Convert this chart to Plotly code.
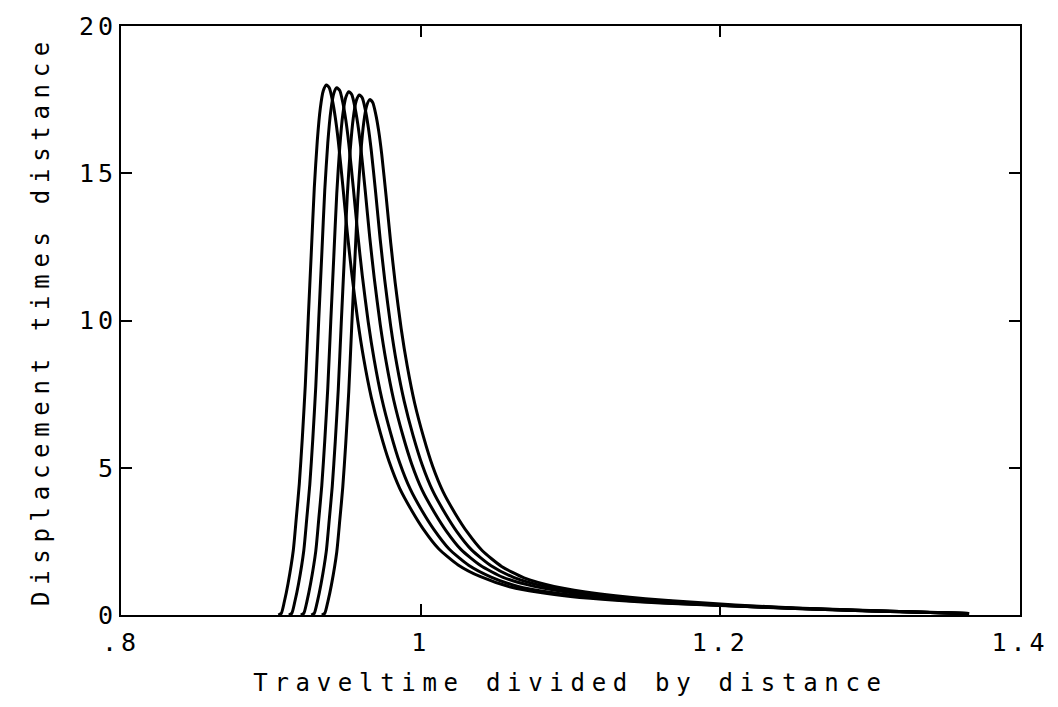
import plotly.graph_objects as go

# ---- data ----
x1 = [0.905, 0.907, 0.909, 0.9115, 0.915, 0.917, 0.919, 0.921, 0.923, 0.925, 0.927, 0.929, 0.931, 0.933, 0.935,
      0.937, 0.939, 0.941, 0.943, 0.945, 0.948, 0.951, 0.954, 0.958, 0.962, 0.967, 0.973, 0.979, 0.986, 0.994,
      1.002, 1.012, 1.025, 1.040, 1.060, 1.080, 1.100, 1.130, 1.160, 1.200, 1.250, 1.300, 1.340, 1.366]
y1 = [0, 0.06, 0.45, 1.07, 2.2, 3.3, 4.45, 6.0, 7.8, 10.1, 12.3, 14.5, 16.1, 17.2, 17.8,
      18.0, 17.9, 17.5, 16.9, 16.1, 14.6, 13.0, 11.6, 10.0, 8.7, 7.4, 6.2, 5.2, 4.3, 3.55,
      2.9, 2.25, 1.7, 1.3, 0.95, 0.76, 0.63, 0.5, 0.41, 0.32, 0.22, 0.14, 0.085, 0.05]

x2 = [0.912, 0.914, 0.916, 0.9185, 0.922, 0.924, 0.926, 0.928, 0.930, 0.932, 0.934, 0.936, 0.938, 0.940, 0.942,
      0.944, 0.946, 0.948, 0.950, 0.952, 0.955, 0.958, 0.961, 0.965, 0.969, 0.974, 0.980, 0.986, 0.993, 1.001,
      1.009, 1.019, 1.032, 1.047, 1.065, 1.085, 1.105, 1.135, 1.165, 1.200, 1.250, 1.300, 1.340, 1.366]
y2 = [0, 0.06, 0.45, 1.06, 2.19, 3.28, 4.43, 5.97, 7.76, 10.05, 12.24, 14.43, 16.02, 17.11, 17.71,
      17.9, 17.81, 17.41, 16.82, 16.02, 14.53, 12.94, 11.54, 9.95, 8.66, 7.36, 6.17, 5.17, 4.28, 3.53,
      2.89, 2.24, 1.69, 1.29, 0.97, 0.78, 0.65, 0.5, 0.41, 0.33, 0.22, 0.14, 0.085, 0.05]

x3 = [0.920, 0.922, 0.924, 0.9265, 0.930, 0.932, 0.934, 0.936, 0.938, 0.940, 0.942, 0.944, 0.946, 0.948, 0.950,
      0.952, 0.954, 0.956, 0.958, 0.960, 0.963, 0.966, 0.969, 0.973, 0.977, 0.982, 0.988, 0.994, 1.001, 1.009,
      1.017, 1.027, 1.040, 1.055, 1.075, 1.095, 1.115, 1.140, 1.170, 1.200, 1.250, 1.300, 1.340, 1.366]
y3 = [0, 0.06, 0.44, 1.06, 2.17, 3.26, 4.39, 5.92, 7.7, 9.97, 12.14, 14.31, 15.89, 16.98, 17.57,
      17.77, 17.67, 17.27, 16.68, 15.89, 14.41, 12.83, 11.45, 9.87, 8.59, 7.3, 6.12, 5.13, 4.24, 3.5,
      2.86, 2.22, 1.68, 1.28, 0.98, 0.8, 0.66, 0.52, 0.42, 0.33, 0.225, 0.145, 0.085, 0.05]

x4 = [0.927, 0.929, 0.931, 0.9335, 0.937, 0.939, 0.941, 0.943, 0.945, 0.947, 0.949, 0.951, 0.953, 0.955, 0.957,
      0.959, 0.961, 0.963, 0.965, 0.967, 0.970, 0.973, 0.976, 0.980, 0.984, 0.989, 0.995, 1.001, 1.008, 1.016,
      1.024, 1.034, 1.047, 1.062, 1.082, 1.102, 1.122, 1.145, 1.175, 1.205, 1.250, 1.300, 1.340, 1.366]
y4 = [0, 0.06, 0.44, 1.05, 2.16, 3.24, 4.37, 5.89, 7.65, 9.91, 12.07, 14.22, 15.79, 16.87, 17.46,
      17.66, 17.56, 17.17, 16.58, 15.79, 14.32, 12.75, 11.38, 9.81, 8.53, 7.26, 6.08, 5.1, 4.22, 3.48,
      2.84, 2.21, 1.67, 1.28, 0.98, 0.8, 0.67, 0.54, 0.43, 0.33, 0.23, 0.145, 0.088, 0.05]

x5 = [0.934, 0.936, 0.938, 0.9405, 0.944, 0.946, 0.948, 0.950, 0.952, 0.954, 0.956, 0.958, 0.960, 0.962, 0.964,
      0.966, 0.968, 0.970, 0.972, 0.974, 0.977, 0.980, 0.983, 0.987, 0.991, 0.996, 1.002, 1.008, 1.015, 1.023,
      1.031, 1.041, 1.054, 1.069, 1.089, 1.109, 1.130, 1.150, 1.180, 1.210, 1.250, 1.300, 1.340, 1.366]
y5 = [0, 0.06, 0.44, 1.04, 2.14, 3.21, 4.33, 5.83, 7.58, 9.82, 11.96, 14.09, 15.65, 16.72, 17.3,
      17.5, 17.4, 17.01, 16.43, 15.65, 14.19, 12.64, 11.28, 9.72, 8.46, 7.19, 6.03, 5.05, 4.18, 3.45,
      2.82, 2.19, 1.65, 1.26, 0.97, 0.79, 0.65, 0.55, 0.44, 0.34, 0.24, 0.15, 0.09, 0.05]

series_x = [x1, x2, x3, x4, x5]
series_y = [y1, y2, y3, y4, y5]

x_tickvals = [0.8, 1.0, 1.2, 1.4]
x_ticktext = [".8", "1", "1.2", "1.4"]
y_tickvals = [0, 5, 10, 15, 20]
y_ticktext = ["0", "5", "10", "15", "20"]

x_title = "Traveltime divided by distance"
y_title = "Displacement times distance"

# ---- figure ----
FONT = "DejaVu Sans Mono"
fig = go.Figure()
for xs, ys in zip(series_x, series_y):
    fig.add_trace(go.Scatter(x=xs, y=ys, mode="lines",
                             line=dict(color="black", width=3, shape="spline", smoothing=0.6),
                             showlegend=False, hoverinfo="skip"))

axis_common = dict(showgrid=False, zeroline=False, showline=True, linecolor="black", linewidth=2,
                   mirror="ticks", ticks="inside", ticklen=11, tickwidth=2, tickcolor="black",
                   tickfont=dict(family=FONT, size=25, color="black"))

fig.update_xaxes(range=[0.8, 1.4], tickvals=x_tickvals, ticktext=x_ticktext, ticklabelstandoff=4,
                 title=dict(text=x_title, font=dict(family=FONT, size=24, color="black"), standoff=18),
                 **axis_common)
fig.update_yaxes(range=[0, 20], tickvals=y_tickvals, ticktext=y_ticktext, ticklabelstandoff=-3,
                 title=dict(text=y_title, font=dict(family=FONT, size=24, color="black"), standoff=30),
                 **axis_common)

fig.update_layout(width=1058, height=707, autosize=False,
                  margin=dict(l=121, r=38, t=23, b=92),
                  paper_bgcolor="white", plot_bgcolor="white")

post = """
var gd = document.getElementById('{plot_id}');
function spacing() {
  gd.querySelectorAll('text.xtitle, text.ytitle').forEach(function(t){ t.style.letterSpacing = '6.7px'; });
  gd.querySelectorAll('.xtick text, .ytick text').forEach(function(t){ t.style.letterSpacing = '4px'; });
}
spacing();
if (gd.on) { gd.on('plotly_afterplot', spacing); }
"""

fig.write_html("out.html", post_script=post)
